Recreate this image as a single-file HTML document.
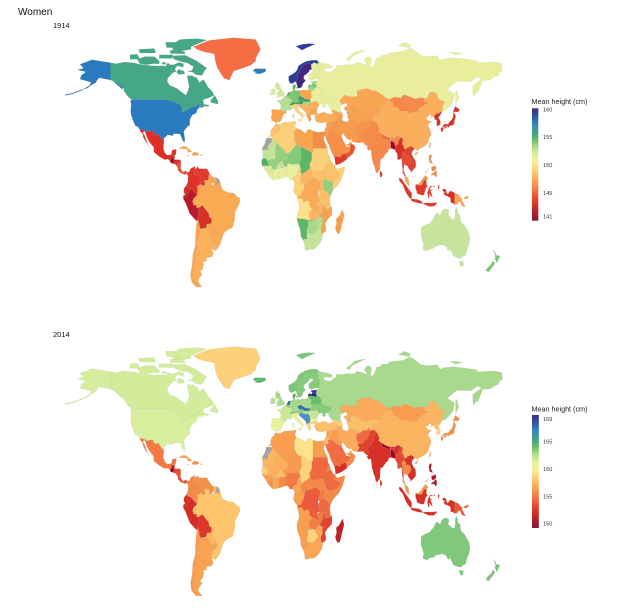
<!DOCTYPE html>
<html><head><meta charset="utf-8">
<style>
html,body{margin:0;padding:0;background:#fff;}
#wrap{position:relative;width:634px;height:608px;overflow:hidden;background:#fff;}
text{font-family:"Liberation Sans",Arial,sans-serif;}
</style></head><body>
<div id="wrap">
<svg id="s" width="634" height="608" viewBox="0 0 634 608" xmlns="http://www.w3.org/2000/svg">
<defs>
<linearGradient id="cb" x1="0" y1="0" x2="0" y2="1">
<stop offset="0" stop-color="#3b2d85"/>
<stop offset="0.07" stop-color="#2f55a5"/>
<stop offset="0.14" stop-color="#3288bd"/>
<stop offset="0.22" stop-color="#45a583"/>
<stop offset="0.28" stop-color="#66bd63"/>
<stop offset="0.35" stop-color="#b4df8e"/>
<stop offset="0.43" stop-color="#e6f39c"/>
<stop offset="0.50" stop-color="#fee690"/>
<stop offset="0.57" stop-color="#fdc86e"/>
<stop offset="0.64" stop-color="#fca55a"/>
<stop offset="0.72" stop-color="#f57b45"/>
<stop offset="0.80" stop-color="#e5492f"/>
<stop offset="0.88" stop-color="#d02a29"/>
<stop offset="0.95" stop-color="#a51c2c"/>
<stop offset="1" stop-color="#7f1a36"/>
</linearGradient>
</defs>
<text x="18" y="15" font-size="10" fill="#111">Women</text>
<text x="53" y="28" font-size="7.5" fill="#111">1914</text>
<text x="53" y="337" font-size="7.5" fill="#111">2014</text>
<g id="m1"></g>
<g id="m2" transform="translate(0,309)"></g>
<!-- legend 1 -->
<text x="531.5" y="104" font-size="7.2" fill="#222">Mean height (cm)</text>
<rect x="532" y="108.3" width="6.3" height="112.4" fill="url(#cb)"/>
<g font-size="5.6" fill="#333">
<text x="543" y="111.3">160</text>
<text x="543" y="139">155</text>
<text x="543" y="167">150</text>
<text x="543" y="195">145</text>
<text x="543" y="218.7">141</text>
</g>
<!-- legend 2 -->
<text x="531.5" y="411.5" font-size="7.2" fill="#222">Mean height (cm)</text>
<rect x="532" y="415" width="6.8" height="113" fill="url(#cb)"/>
<g font-size="5.6" fill="#333">
<text x="543" y="421">169</text>
<text x="543" y="443.7">165</text>
<text x="543" y="471">160</text>
<text x="543" y="498.7">155</text>
<text x="543" y="525.3">150</text>
</g>
</svg>
</div>
<script>
(function(){
var NS="http://www.w3.org/2000/svg";
function P(p){return (282.5+1.22*p[0]).toFixed(1)+","+(188-1.8*p[1]).toFixed(1);}
function path(c){return "M"+c.map(P).join("L")+"Z";}
var GR="#a3a3a3";
var D=[
// ---------- AMERICAS ----------
[[[-141,69.6],[-156,71.3],[-166,68.8],[-163,66.5],[-168,65.6],[-161,64.5],[-165,62.5],[-166,60.5],[-157,58.7],[-158,57],[-163,55],[-164,54.5],[-160,55.5],[-156,57.5],[-153,58.5],[-152,60],[-150,61.2],[-147,60.8],[-141,60],[-137,59],[-130,55.5],[-131.5,55],[-135,57],[-139,59.5],[-141,60]],"#2a7abf","#d5ed9d"],
[[[-164,54.8],[-172,52.8],[-178,51.9],[-178,51.4],[-172,52.3],[-164,54.3]],"#2a7abf","#d5ed9d"],
[[[-141,69.6],[-141,60],[-137,59],[-130,55.5],[-130,54],[-127,51],[-123.5,49],[-95,49],[-89,48],[-84.5,46.5],[-82.5,45],[-82.5,42],[-79,43],[-76,44],[-74.7,45],[-71,45],[-69,47.4],[-67.8,45],[-66,44.5],[-64,45.5],[-61,45.2],[-60,46],[-64.5,46.5],[-65,49],[-60,50.2],[-56,51.5],[-58,54],[-61,56],[-64,59.5],[-65,60.3],[-68,58.5],[-70,61],[-74,62.3],[-78,62.5],[-77.5,60],[-76.5,56],[-79,51.5],[-82,52.9],[-87,55.5],[-92.5,57],[-94.5,59],[-94,61],[-90,64],[-87.5,64.5],[-88,66.5],[-86,68],[-81.5,67],[-81,69],[-85,69.8],[-89,68.5],[-92,68.5],[-94,69.5],[-96,67.5],[-98,68],[-102,67.8],[-108,68],[-115,68.5],[-122,69.5],[-130,70],[-136,69]],"#46a688","#d3ec9c"],
[[[-62,66.8],[-64,65],[-66,62.5],[-71,63],[-74,64.5],[-78,64.5],[-74,65.5],[-73,67.5],[-78,69.5],[-82,70],[-89,71.5],[-90,73.5],[-80,73.7],[-76,72.5],[-70,70.5],[-67,69],[-64,67.5]],"#46a688","#d3ec9c"],
[[[-101,69],[-106,69],[-112,68.5],[-117,69],[-119,71.5],[-113,73],[-105,73],[-101,70.5]],"#46a688","#d3ec9c"],
[[[-117,71.5],[-125,71.5],[-125,74],[-119,74.3]],"#46a688","#d3ec9c"],
[[[-75,77],[-82,76.3],[-90,76.5],[-90,80],[-84,82.5],[-70,83],[-62,82.2],[-70,80],[-75,78.5]],"#46a688","#d3ec9c"],
[[[-80,74.5],[-92,74.7],[-92,76.5],[-84,76.5],[-80,75.5]],"#46a688","#d3ec9c"],
[[[-104,75],[-117,75],[-118,77],[-105,77.5]],"#46a688","#d3ec9c"],
[[[-87,78],[-95,78],[-96,81],[-88,81]],"#46a688","#d3ec9c"],
[[[-80,63.5],[-85,63],[-87,64.5],[-85,66],[-81,65]],"#46a688","#d3ec9c"],
[[[-90,72],[-101,72],[-101,74],[-90,74]],"#46a688","#d3ec9c"],
[[[-96,68.5],[-99,69],[-98,70],[-95.5,69.5]],"#46a688","#d3ec9c"],
[[[-59,47.6],[-53,46.6],[-52.8,48],[-55.5,51.5],[-59,48.5]],"#46a688","#d3ec9c"],
[[[-123.5,49],[-95,49],[-89,48],[-84.5,46.5],[-82.5,45],[-82.5,42],[-79,43],[-76,44],[-74.7,45],[-71,45],[-69,47.4],[-67.8,45],[-70,43.5],[-70.5,41.8],[-74,40.5],[-76,38],[-76,35],[-78,34],[-81,31.5],[-80,27],[-80.4,25.2],[-82,26.5],[-82.7,28],[-84,30],[-89,30.2],[-90,29],[-94,29.6],[-97.4,27.5],[-97.2,25.9],[-99.5,27.5],[-101.5,29.8],[-104.5,29.5],[-106.5,31.8],[-111,31.3],[-114.8,32.5],[-117.1,32.5],[-118.5,34],[-120.6,34.5],[-122.5,37.5],[-124,40.5],[-124.5,43],[-124,46.5],[-124.7,48.4]],"#2a7abf","#d8ee9f"],
[[[-73,78.5],[-60,82],[-40,83.5],[-22,82.5],[-20,80],[-18,77],[-22,72],[-22,70.5],[-26,68.3],[-34,66.3],[-40,65],[-43.5,60],[-48,61],[-51,64],[-53.5,67],[-55,70.5],[-56,74.5],[-66,76],[-70,77]],"#f46d43","#fdd07a"],
[[[-24,65.5],[-22,66.4],[-18,66.2],[-14,66.3],[-13.5,65],[-15,64.3],[-18.5,63.4],[-22.7,63.8],[-21.8,64.5],[-24,64.9]],"#2c7fb8","#5cb86a"],
[[[-117.1,32.5],[-114.8,32.5],[-111,31.3],[-106.5,31.8],[-104.5,29.5],[-101.5,29.8],[-99.5,27.5],[-97.2,25.9],[-97.7,22],[-96.5,19.5],[-94.5,18.2],[-91,18.6],[-90.5,21],[-87,21.5],[-87.5,18.5],[-88.3,18.5],[-89.2,17.8],[-91.4,17.3],[-90.5,16.5],[-92.2,15],[-94,16.1],[-96.5,15.7],[-101,17.5],[-105.5,20],[-105.5,22.5],[-109,25.5],[-111,27.9],[-112.8,31.5],[-114.5,31],[-113,29],[-112,27],[-110,24],[-109.5,23],[-110.5,24.5],[-112.2,26],[-114,28],[-114.5,30],[-116.5,31.5]],"#dd2f28","#f47a44"],
[[[-92.2,15],[-90.5,16.5],[-91.4,17.3],[-89.2,17.8],[-89.2,15.9],[-88.2,15.7],[-89.2,14.5],[-90.1,13.7],[-91.5,13.9]],"#a50026","#a50026"],
[[[-89.2,17.8],[-88.3,18.5],[-88.2,16],[-89.2,15.9]],"#f46d43","#e85a38"],
[[[-89.2,14.5],[-88.2,15.7],[-84.5,15.8],[-83.2,15],[-85,14],[-87,13],[-89.5,13.5],[-90.1,13.7]],"#d73027","#e34a33"],
[[[-83.2,15],[-83.6,11],[-82.5,9.5],[-81.5,8.8],[-79.5,9.6],[-77.5,8.6],[-77.9,7.2],[-78.4,8],[-80,7.3],[-81.2,7.8],[-83.5,8.4],[-85.7,9.9],[-85.7,11.2],[-87.5,12.9],[-87,13],[-85,14]],"#e6502f","#e45533"],
[[[-85,21.9],[-82,23.1],[-79,23],[-74.2,20.2],[-77.7,19.8],[-78,21.5],[-81,21.8],[-84,21.8]],"#f9a552","#f99d4e"],
[[[-74.5,18.4],[-72.8,19.9],[-69.5,19.7],[-68.4,18.5],[-71,18],[-74.4,18.2]],"#f8a04e","#f68a46"],
[[[-78.3,18.4],[-76.2,18],[-76.8,17.8],[-78.3,18.2]],"#f8a04e","#f68a46"],
[[[-67.3,18.5],[-65.6,18.4],[-65.6,18],[-67.2,18]],"#f8a04e","#f99d4e"],
[[[-77.5,8.6],[-76,9.3],[-75.5,10.6],[-74,11.2],[-72.3,11.9],[-71.3,11.8],[-72.2,11],[-72.5,9],[-72,7],[-70,6.9],[-67.5,6.2],[-67.8,4.5],[-67.3,2],[-69.9,1.1],[-69.5,-1],[-70,-4],[-72.5,-2.4],[-75.2,-0.1],[-77.4,0.4],[-78.8,1.4],[-77.5,3.5],[-77.3,6.5],[-77.9,7.2]],"#e0302a","#f58a47"],
[[[-72.3,11.9],[-71.3,11.8],[-72.2,11],[-72.5,9],[-72,7],[-70,6.9],[-67.5,6.2],[-67.8,4.5],[-67.3,2],[-64,1.1],[-63.4,2.3],[-64.5,4],[-60.9,4.5],[-60.7,5.2],[-60,8.5],[-62,10.7],[-66,10.6],[-68.5,10.8],[-70,12.1],[-71,10.5],[-71.6,11.1]],"#e23a2b","#f68f49"],
[[[-60,8.5],[-60.7,5.2],[-60.9,4.5],[-59.5,3],[-60,1.5],[-58,1.5],[-57,3.5],[-57,6],[-58.5,7]],"#f9a552","#f68f49"],
[[[-57,6],[-57,3.5],[-56,2],[-54,2],[-54,5.7]],"#f9a552","#fbb05c"],
[[[-54,5.7],[-54,2],[-52,2.3],[-51.6,4.2],[-52.5,5.3]],GR,GR],
[[[-80,-3.4],[-81,-2],[-80.5,0],[-78.8,1.4],[-77.4,0.4],[-75.2,-0.1],[-75.5,-1.5],[-78.2,-3.5],[-79,-5],[-80.3,-4]],"#d73027","#d73027"],
[[[-81.3,-4.3],[-80.3,-4],[-79,-5],[-78.2,-3.5],[-75.5,-1.5],[-75.2,-0.1],[-72.5,-2.4],[-70,-4],[-73,-6],[-73.7,-7.5],[-72.6,-9.5],[-70.5,-9.5],[-70.5,-11],[-69,-11],[-68.8,-12.9],[-69.6,-17.3],[-70.4,-18.4],[-76,-14.2],[-79.5,-8.1],[-81.3,-6]],"#b81c2b","#d42d27"],
[[[-69,-11],[-68.8,-12.9],[-69.6,-17.3],[-68.5,-19],[-68,-21.4],[-67,-22.8],[-64.5,-22.3],[-62.6,-22.2],[-62,-20],[-58.2,-19.8],[-58,-17],[-60.2,-16],[-60.5,-13.8],[-62.8,-12.2],[-65.3,-9.8],[-66.6,-9.9],[-68,-10.7]],"#d73027","#e0362a"],
[[[-60,1.5],[-59.5,3],[-60.9,4.5],[-64.5,4],[-63.4,2.3],[-64,1.1],[-67.3,2],[-69.9,1.1],[-69.5,-1],[-70,-4],[-73,-6],[-73.7,-7.5],[-72.6,-9.5],[-70.5,-9.5],[-70.5,-11],[-69,-11],[-68,-10.7],[-66.6,-9.9],[-65.3,-9.8],[-62.8,-12.2],[-60.5,-13.8],[-60.2,-16],[-58,-17],[-58.2,-19.8],[-57.8,-22.1],[-55.7,-22.6],[-54.6,-25.6],[-53.6,-26.1],[-53.8,-27.5],[-57.6,-30.2],[-53.4,-33.7],[-51,-31],[-48.6,-26],[-48,-25],[-44.5,-23],[-41,-22],[-39.2,-17.5],[-39,-13.5],[-37,-11],[-35,-8],[-35.2,-5.5],[-37.5,-4.7],[-40,-2.8],[-44.5,-2.5],[-48.5,-1.2],[-50,0],[-51,3.5],[-51.6,4.2],[-52,2.3],[-54,2],[-56,2],[-58,1.5]],"#f9ab54","#fdc46c"],
[[[-62.6,-22.2],[-62,-20],[-58.2,-19.8],[-57.8,-22.1],[-55.7,-22.6],[-54.6,-25.6],[-58.6,-27.3],[-60,-24]],"#f9a552","#fbb460"],
[[[-57.6,-30.2],[-53.4,-33.7],[-54.9,-34.9],[-58.4,-34],[-58.2,-32.5]],"#fbb460","#fdc46c"],
[[[-67,-22.8],[-64.5,-22.3],[-62.6,-22.2],[-60,-24],[-58.6,-27.3],[-54.6,-25.6],[-53.6,-26.1],[-53.8,-27.5],[-57.6,-30.2],[-58.2,-32.5],[-58.4,-34],[-57.3,-35.5],[-56.7,-36.4],[-57.7,-38.2],[-62.3,-38.8],[-62.3,-40.5],[-65,-41],[-64.5,-42.5],[-65.5,-45],[-67.5,-46.5],[-65.8,-47.8],[-68.5,-50.5],[-69,-52],[-68.3,-53],[-65.5,-55],[-68.6,-54.9],[-68.6,-52.6],[-71.9,-52],[-72.3,-50.5],[-73.5,-49],[-71.8,-44.5],[-71.5,-39.5],[-70.8,-36],[-70,-33],[-70.3,-30],[-69.1,-27.5],[-68.3,-25]],"#fbb15c","#f9a352"],
[[[-70.4,-18.4],[-69.6,-17.3],[-68.5,-19],[-68,-21.4],[-67,-22.8],[-68.3,-25],[-69.1,-27.5],[-70.3,-30],[-70,-33],[-70.8,-36],[-71.5,-39.5],[-71.8,-44.5],[-73.5,-49],[-72.3,-50.5],[-71.9,-52],[-68.6,-52.6],[-68.6,-54.9],[-71,-55],[-74.5,-52],[-75.5,-48],[-74,-43],[-73.5,-37],[-71.5,-32],[-71.4,-28],[-70.3,-18.5]],"#f9a552","#f99b4e"],
// ---------- EUROPE ----------
[[[-5.7,50.1],[1.4,51.2],[1.7,52.7],[0.2,53.5],[-0.2,54.2],[-1.6,55.6],[-2.1,57.6],[-4,57.6],[-3.2,58.6],[-5,58.6],[-6,56.8],[-5.5,55.4],[-4.9,54.8],[-3,54.6],[-3.1,53.3],[-4.6,53.3],[-4.1,52.3],[-5.2,51.7],[-3.1,51.4]],"#d4ec98","#a9d98c"],
[[[-6,52],[-10,51.6],[-9.5,53.7],[-10,54.2],[-8,55.2],[-5.8,54.8],[-6,53.5]],"#d9ef9b","#b9e094"],
[[[-9.3,43],[-8,43.7],[-1.8,43.4],[0.7,42.8],[3.2,42.4],[3.2,41.9],[0.8,41],[0,39.9],[-0.3,38.5],[-2.1,36.7],[-4.4,36.7],[-5.4,36],[-6.4,36.8],[-7.4,37.2],[-8.9,37],[-8.8,38.3],[-9.5,38.8],[-8.8,40.8],[-8.8,42.5]],"#f9a550","#e6f29e"],
[[[-1.8,43.4],[-1.2,46],[-2.7,47.5],[-4.6,48.6],[-1.5,48.7],[0,49.6],[1.6,50.9],[2.5,51.1],[4.2,49.9],[5.8,49.5],[8.2,49],[7.6,47.6],[6,46.3],[7,45.9],[6.7,44.2],[7.5,43.8],[6.2,43.1],[4.6,43.4],[3.1,43.1],[3.2,42.4],[0.7,42.8]],"#b5de8f","#cce89a"],
[[[3.4,51.4],[4.3,52.5],[4.8,53.2],[7,53.5],[6,51.9],[5.9,51],[4,51.3]],"#5db667","#2166ac"],
[[[2.5,51.1],[3,51.3],[3.4,51.4],[4,51.3],[5.9,51],[6.1,50.8],[6.4,49.5],[5.8,49.5],[4.2,49.9]],"#8fcf7c","#8fcf7c"],
[[[6,51.9],[7,53.5],[8.7,53.9],[8.7,54.9],[9.9,54.8],[11,54],[13.5,54.3],[14.2,53.9],[14.6,52.6],[15,51.1],[12.1,50.3],[13.8,48.8],[13,47.5],[10.5,47.3],[7.6,47.6],[8.2,49],[6.4,49.5],[6.1,50.8],[5.9,51]],"#7cc672","#a6d98a"],
[[[8.1,56.8],[8.7,54.9],[9.9,54.8],[10.9,56.4],[10.3,57.6],[8.7,57.1]],"#5db667","#55b467"],
[[[11.2,55.2],[12.6,55.6],[12.4,56.1],[11,55.8]],"#5db667","#55b467"],
[[[6,46.3],[7.6,47.6],[10.5,47.3],[13,47.5],[13.8,48.8],[16.9,48.6],[17,48],[16.5,46.5],[13.7,46.5],[10.5,46.6],[7,45.9]],"#3aa460","#8fcf7c"],
[[[12.1,50.3],[15,51.1],[18.8,49.5],[22.6,49.1],[22.9,48],[18.8,47.8],[17,48],[16.9,48.6],[13.8,48.8]],"#3aa460","#2b6fb2"],
[[[16.5,46.5],[17,48],[18.8,47.8],[22.9,48],[21,46.2],[18.8,45.9]],"#a6d88a","#b8e094"],
[[[14.2,53.9],[16.5,54.5],[18.6,54.4],[19.9,54.4],[23.5,54.2],[23.8,52.7],[23.2,52.3],[24,50.4],[22.6,49.1],[18.8,49.5],[15,51.1],[14.6,52.6]],"#f9a550","#a6d98a"],
[[[19.9,54.4],[19.9,54.9],[21.2,55.2],[22.8,54.4],[23.5,54.2]],"#e8ee9c","#a9d98d"],
[[[6.7,44.2],[7,45.9],[10.5,46.6],[13.7,46.5],[13.7,45.6],[12.3,45.3],[12.6,44],[16,41.4],[18.5,40.1],[16.9,40.4],[16.6,38.8],[15.7,38],[15.8,39.5],[14,41],[12.3,41.7],[10.5,42.9],[8.9,44.4],[7.5,43.8]],"#fdd07a","#e9f29e"],
[[[12.4,38],[15.6,38.2],[15.1,36.7]],"#fdd07a","#e9f29e"],
[[[8.4,41],[9.8,41],[9.6,39],[8.4,39]],"#fdd07a","#e9f29e"],
[[[13.7,46.5],[16.5,46.5],[18.8,45.9],[21,46.2],[22.7,44.6],[22.4,44],[23,43.2],[22.5,42.3],[22.5,41.2],[20.6,40.9],[19.5,40.5],[19.3,41.9],[15.5,44.3],[14,45],[13.7,45.6]],"#fcb45e","#4a8fc0"],
[[[19.5,40.5],[20.6,40.9],[22.5,41.2],[26.3,41.7],[26,40.8],[24,40.8],[22.6,40.3],[23.5,38],[22.8,37.3],[21.7,36.8],[21.1,38.3]],"#f99f4e","#fdd07a"],
[[[22.4,44],[28.6,43.7],[28,43],[28.5,41.9],[26.3,41.7],[22.5,41.2],[22.5,42.3],[23,43.2]],"#f9a550","#e6f29e"],
[[[21,46.2],[22.9,48],[24.9,47.8],[26.6,48.2],[28.2,48.2],[29.2,47.5],[30,46.4],[29.6,45.3],[28.7,44.3],[28.6,43.7],[22.4,44],[22.7,44.6]],"#fbb15c","#c8e59b"],
[[[22.6,49.1],[24,50.4],[23.6,51.5],[26,51.9],[30.5,51.3],[31.8,52.1],[34.1,51.6],[35.4,50.6],[38,50],[40,49.6],[39.7,47.9],[38.2,47.1],[35,46.3],[35.5,45.3],[33.5,44.5],[32.5,45.3],[33.5,46],[31.7,46.7],[30.7,46.5],[30,46.4],[29.2,47.5],[28.2,48.2],[26.6,48.2],[24.9,47.8],[22.9,48]],"#e8ee9c","#86cb7a"],
[[[23.5,54.2],[23.8,52.7],[23.2,52.3],[23.6,51.5],[26,51.9],[30.5,51.3],[31.8,52.1],[31.5,53.2],[32.7,53.4],[31,54.7],[30.8,55.6],[28.2,56.2],[26.5,55.7],[25.7,54.3]],"#e8ee9c","#66bd63"],
[[[21,56.1],[21.2,55.2],[22.8,54.4],[23.5,54.2],[25.7,54.3],[26.5,55.7],[24,56.3]],"#9fd486","#66bd63"],
[[[21,56.1],[24,56.3],[26.5,55.7],[28.2,56.2],[27.7,57.3],[25.5,57.9],[24.4,57.9],[23.5,57],[22,57.6],[21,56.8]],"#7cc672","#282a82"],
[[[23.5,58.6],[24.4,57.9],[25.5,57.9],[27.7,57.3],[27.8,58.4],[28,59.5],[23.4,59.2]],"#a6d88a","#313695"],
[[[5,62],[5.2,59.5],[6.5,58.1],[8,58],[10.5,59.1],[11.1,59],[12.3,60.5],[12.1,61.5],[12.5,63.5],[14.5,64.4],[13.7,65],[15.5,66.3],[16.5,67.5],[18,68.5],[20,69],[21,69.3],[23.5,68.6],[26,69.7],[28.2,69],[28.4,68.5],[29.8,67.6],[30,69.8],[28,71],[24,71],[19,70.3],[15,68.8],[13,67.8],[12,65.5],[10,64],[7,62.8]],"#2d3d98","#7cc67a"],
[[[11,78.8],[16,79.8],[22,80.2],[27,80],[20,78],[16,76.6],[14,77.5]],"#2d3d98","#7cc67a"],
[[[11.1,59],[12.3,56.3],[13,55.4],[14.3,55.5],[16,56.2],[16.6,57.9],[19,59.8],[17.3,60.7],[17.5,62.3],[20.5,63.8],[21.5,64.5],[22.5,65.8],[24,65.8],[23.7,66.8],[23.5,68.6],[21,69.3],[20,69],[18,68.5],[16.5,67.5],[15.5,66.3],[13.7,65],[14.5,64.4],[12.5,63.5],[12.1,61.5],[12.3,60.5]],"#44267c","#86cb7a"],
[[[21.5,60.8],[22.9,59.8],[25.8,60.3],[28,60.6],[30,60.5],[29.6,61.2],[31.5,62.9],[29.9,63.6],[30.5,65],[29,66.9],[29.8,67.6],[28.4,68.5],[28.2,69],[26,69.7],[23.5,68.6],[23.7,66.8],[24,65.8],[25.3,65],[21.4,62.7]],"#e3ef9a","#86cb7a"],
// ---------- RUSSIA ----------
[[[30,69.8],[33,69.3],[36,69],[41,67.8],[40,66.2],[36,66.7],[34.8,66.2],[33,66.5],[34.5,65],[36.8,64.5],[40,64.5],[42,66.3],[44,66.2],[44,68.3],[46,68],[53,68.5],[59,68.5],[60.5,69.8],[65,69.3],[68.5,68],[69,69],[67,70.5],[69,72.8],[72,72.8],[73,71],[72,67],[75,68],[77,72],[80,72.5],[81,73.6],[87,74],[87,75],[99,76],[104,77.7],[107,77],[113.5,73.5],[119,73],[127,73.5],[129,71],[132,71.8],[140,72.4],[150,71.6],[159,70.8],[160,69.5],[168,69.9],[170,70],[176,69.8],[180,69],[180,65],[178,64.7],[177,62.5],[174,61.8],[170,60],[164,59.8],[163,57.8],[162,56],[160,53],[158.5,52.9],[156.5,51],[156,53.5],[156,57],[158,58],[163,60.5],[160,61.7],[155,59.2],[152,59],[143,59.3],[138,56.5],[135,54.7],[137,54],[141,52.2],[140,48],[137,45.3],[133,42.8],[131,42.6],[130.6,42.4],[131,45],[133,48],[130,48.8],[127.5,49.8],[125.9,52.8],[120.8,53.3],[120,51.9],[117.8,49.5],[116.7,49.8],[114,50.2],[108,49.5],[106,50.3],[100,51.7],[97.8,51],[97.8,50],[92,50.5],[90,50],[87.8,49.2],[85,50],[83,51],[79,53],[76,54],[73.5,54],[71,55],[68.5,55.2],[65,54.7],[61,53.9],[61.5,51],[59,50.8],[55,50.6],[50.8,51.6],[48.5,49.9],[47.3,49],[46.5,48.4],[47.7,47.7],[48.9,46.3],[47.5,45.6],[47.5,43],[48.6,41.8],[46.5,41.9],[43.2,42.8],[40,43.4],[38,44.7],[37.5,46.6],[39.2,47],[39.7,47.9],[40,49.6],[38,50],[35.4,50.6],[34.1,51.6],[31.8,52.1],[31.5,53.2],[32.7,53.4],[31,54.7],[30.8,55.6],[28.2,56.2],[27.7,57.3],[27.8,58.4],[28,59.5],[30,60.5],[29.6,61.2],[31.5,62.9],[29.9,63.6],[30.5,65],[29,66.9],[29.8,67.6],[28.4,68.5],[28.2,69]],"#e8ee9c","#a9d98d"],
[[[52,71.5],[56,73.5],[59,75.5],[68,76.8],[66,76],[57,73],[55,70.7]],"#e8ee9c","#a9d98d"],
[[[95,79],[104,78],[105,79.5],[100,81]],"#e8ee9c","#a9d98d"],
[[[137,75.5],[148,75],[142,73.8]],"#e8ee9c","#a9d98d"],
[[[142,46],[143.5,49.2],[144.7,49],[143.3,53.5],[142.7,54.4],[141.8,53],[142,49.5]],"#e8ee9c","#a9d98d"],
// ---------- MIDDLE EAST / ASIA ----------
[[[26.1,40],[27,37.5],[28.5,36.6],[30.5,36.3],[32.5,36.1],[36,36.8],[36.2,36],[38,36.8],[42.3,37.2],[44.8,37.2],[44.3,39.5],[44.8,39.7],[43.6,41.1],[41.5,41.5],[38,40.9],[35,42],[33,42],[30,41.2],[28.9,41.3],[28,41],[26.7,40.3]],"#fbad58","#fdbe69"],
[[[26.3,41.7],[28,42],[29,41.2],[26,40.6]],"#fbad58","#fdbe69"],
[[[41.5,41.5],[43.6,41.1],[44.8,39.7],[46.5,38.9],[48,39.6],[48.9,38.4],[49.5,40.3],[48.6,41.8],[46.5,41.9],[43.2,42.8],[40,43.4]],"#f9a550","#fdd07a"],
[[[36,36.8],[35.9,35.2],[36,34.6],[35.8,33.3],[36.8,32.3],[38.8,33.4],[41,34.4],[41.3,36.4],[42.3,37.2],[38,36.8],[36.2,36]],"#f99f4e","#fba555"],
[[[38.8,33.4],[39,32],[42,31],[44.7,29.2],[46.5,29.1],[47.7,30],[48.5,29.9],[48,31],[47.7,32],[46,33.2],[45.4,34],[45.9,35.8],[44.8,37.2],[42.3,37.2],[41.3,36.4],[41,34.4]],"#f79648","#f99d4e"],
[[[46.5,29.1],[47.7,28.5],[48.5,28],[48.5,29.9],[47.7,30]],"#f79648","#f99d4e"],
[[[35.8,33.3],[35,33],[34.2,31.3],[34.9,29.5],[37,29.2],[38,30.4],[37,31.5],[39,32],[38.8,33.4],[36.8,32.3]],"#f99f4e","#fdbe69"],
[[[34.9,29.5],[36.5,26],[38,24],[39.2,21.5],[41,19],[42.8,16.4],[43.3,17.5],[46,17.3],[47,16.9],[48.2,18.2],[49.1,18.6],[52,19],[55,20],[55.5,22.5],[52,23],[51.6,24.2],[51.3,24.6],[50.8,24.8],[50.1,25.9],[49.5,26.9],[48.5,28],[47.7,28.5],[46.5,29.1],[44.7,29.2],[42,31],[39,32],[37,31.5],[38,30.4],[37,29.2]],"#f68f47","#f26d43"],
[[[42.8,16.4],[43.5,12.7],[45,12.9],[48.7,14],[52.2,15.6],[53.1,16.6],[52,19],[49.1,18.6],[48.2,18.2],[47,16.9],[46,17.3],[43.3,17.5]],"#e0382b","#d73027"],
[[[52,19],[53.1,16.6],[55.2,17.6],[56.8,18.6],[57.8,19.1],[58.5,20.4],[59.8,22.5],[58.8,23.6],[56.4,24.9],[56,24],[55.5,22.5],[55,20]],"#e8502f","#f68a46"],
[[[51.6,24.2],[55.5,22.5],[56,24],[56.4,24.9],[56,26],[54,24.2]],"#f79648","#f99d4e"],
[[[44.8,39.7],[46.5,38.9],[48,39.6],[48.9,38.4],[49,37.6],[51,36.8],[54,36.8],[54,37.4],[56,38],[57.3,38],[59.3,37.5],[61,36.5],[61.2,35.6],[60.5,33.7],[60.9,31.5],[61.7,31.4],[62.7,29.5],[61.4,29.3],[63.3,27.2],[61.9,26.2],[61.5,25.1],[57.4,25.7],[56.5,27.1],[54.7,26.5],[52.5,27.6],[50.9,29.1],[50.1,30.2],[48.5,29.9],[47.7,30],[48,31],[47.7,32],[46,33.2],[45.4,34],[45.9,35.8],[44.8,37.2],[44.3,39.5]],"#f89a4c","#fba95a"],
[[[61.2,35.6],[62.2,35.3],[64.5,36.3],[66.5,37.4],[67.8,37.1],[69.3,37.1],[70.8,38.5],[71.5,37.9],[71.2,36.9],[74.9,37.4],[71.5,36.5],[71,34.4],[69.7,33.1],[69.3,31.9],[66.9,31.3],[66.3,29.9],[62.7,29.5],[60.9,31.5],[60.5,33.7]],"#f7944a","#f06a40"],
[[[61.5,25.1],[61.9,26.2],[63.3,27.2],[61.4,29.3],[62.7,29.5],[66.3,29.9],[66.9,31.3],[69.3,31.9],[69.7,33.1],[71,34.4],[71.5,36.5],[74.9,37.4],[77.8,35.5],[76,34.6],[74.3,33],[75,32.5],[74.6,31],[73.4,29.9],[71.8,28],[70.5,28],[69.5,26.9],[70.9,24.3],[68.8,24.3],[67.4,23.9],[66.5,25.4]],"#f68d47","#e0432c"],
[[[68.8,24.3],[70.9,24.3],[69.5,26.9],[70.5,28],[71.8,28],[73.4,29.9],[74.6,31],[75,32.5],[74.3,33],[76,34.6],[77.8,35.5],[79.5,32.5],[78.8,31.2],[81,30.2],[82,27.9],[84.5,27.3],[88.1,26.5],[88.8,27.1],[89.8,26.7],[92,26.8],[92,27.8],[95,29],[97,27.8],[95.2,26],[94.6,24.2],[93.3,23.9],[92.6,22],[92.3,24.3],[91.5,24.1],[92,25],[89.8,25.9],[88.8,26.2],[88.7,24.2],[89,22],[87,21.5],[86.5,20],[84.8,19.2],[82.2,16.6],[80.3,15.9],[80,13],[79.8,10.3],[78.2,8.9],[77.5,8.1],[76.5,8.9],[75.7,11.3],[74.6,13.2],[73.5,16],[72.8,19.2],[72.6,21.3],[70.5,20.9],[69,22.4],[70.3,22.9],[68.2,23.7]],"#f6894a","#d73027"],
[[[88.8,27.1],[88.2,27.9],[90,28],[92,27.8],[92,26.8],[89.8,26.7]],"#f6894a","#d73027"],
[[[81,30.2],[82,27.9],[84.5,27.3],[88.1,26.5],[88.2,27.9],[85.8,28.3],[83,29.3]],"#f06a40","#a50026"],
[[[88.7,24.2],[88.8,26.2],[89.8,25.9],[92,25],[91.5,24.1],[92.3,24.3],[92.6,22],[92,21.2],[90.3,21.8],[89,22]],"#a50026","#a50026"],
[[[79.8,8],[80,9.8],[81.4,8.5],[81.8,7.5],[81.2,6.2],[80.1,6]],"#d73027","#e34a33"],
[[[46.5,48.4],[47.3,49],[48.5,49.9],[50.8,51.6],[55,50.6],[59,50.8],[61.5,51],[61,53.9],[65,54.7],[68.5,55.2],[71,55],[73.5,54],[76,54],[79,53],[83,51],[85,50],[87.8,49.2],[85.8,47.2],[85.5,47.5],[83,47.2],[82.5,45.5],[80,45],[80,42.1],[77,43],[74.2,43.2],[71,42.3],[69,41.4],[66,42.9],[66,42],[62,43.5],[58.5,45.6],[56,45],[56,41.3],[54,42.3],[52.5,41.8],[52.8,42.8],[51.3,43.2],[50.3,44.6],[51.3,45.2],[53,45.3],[53,46.8],[51.2,47],[49.1,46.4],[48.9,46.3],[47.7,47.7]],"#f9a652","#fba95a"],
[[[52.5,41.8],[54,42.3],[56,41.3],[56,45],[58.5,45.6],[62,43.5],[66,42],[66,42.9],[69,41.4],[71,42.3],[74.2,43.2],[77,43],[80,42.1],[76.5,40.5],[74.8,40.5],[73.5,39.5],[74.9,37.4],[71.2,36.9],[71.5,37.9],[70.8,38.5],[69.3,37.1],[67.8,37.1],[66.5,37.4],[64.5,36.3],[62.2,35.3],[61.2,35.6],[61,36.5],[59.3,37.5],[57.3,38],[56,38],[54,37.4],[53.9,38.9],[53.1,39.3],[53.8,40.6],[52.9,40.9]],"#f8a04e","#fdbe69"],
[[[87.8,49.2],[90,50],[92,50.5],[97.8,50],[97.8,51],[100,51.7],[106,50.3],[108,49.5],[114,50.2],[116.7,49.8],[115.5,48.1],[118,47.8],[119.7,46.7],[117.4,46.6],[113,44.8],[111,43.4],[111.6,42.4],[107.5,42.4],[105,41.6],[100.8,42.7],[96.4,42.7],[95.3,44.3],[93.5,44.9],[90.9,45.3],[90.6,47.2],[88,48.6]],"#f5894a","#f99c4e"],
[[[73.5,39.5],[74.9,37.4],[77.8,35.5],[79.5,32.5],[78.8,31.2],[81,30.2],[83,29.3],[85.8,28.3],[88.2,27.9],[90,28],[92,27.8],[95,29],[97,27.8],[97.6,28.3],[98.7,26.7],[97.8,24],[98.9,24.1],[99.5,22.1],[101.2,21.4],[102.2,22.4],[103.5,22.7],[105.3,23.3],[106.7,22.8],[108,21.5],[109.7,21.5],[110.5,20.3],[111.8,21.6],[113.5,22.2],[117,23.5],[119.5,25.5],[120,27.2],[121.8,29.8],[121.5,31.5],[120.5,33],[119.2,34.7],[120.6,36.1],[122.5,37],[119,37.5],[118,38.5],[117.5,39],[119.5,39.8],[121.3,40.9],[122,40.4],[121.2,39],[122,39.2],[124.3,39.9],[126,41.2],[128.2,41.4],[129.7,42.4],[130.6,42.4],[131,42.6],[131,45],[133,48],[130,48.8],[127.5,49.8],[125.9,52.8],[120.8,53.3],[120,51.9],[117.8,49.5],[116.7,49.8],[115.5,48.1],[118,47.8],[119.7,46.7],[117.4,46.6],[113,44.8],[111,43.4],[111.6,42.4],[107.5,42.4],[105,41.6],[100.8,42.7],[96.4,42.7],[95.3,44.3],[93.5,44.9],[90.9,45.3],[90.6,47.2],[88,48.6],[87.8,49.2],[85.8,47.2],[85.5,47.5],[83,47.2],[82.5,45.5],[80,45],[80,42.1],[76.5,40.5],[74.8,40.5]],"#fbae5c","#fbb360"],
[[[108.6,19.3],[110.5,20.1],[111,19.6],[109.5,18.2],[108.7,18.5]],"#fbae5c","#fbb360"],
[[[120.1,23],[121,25.2],[121.9,25],[120.8,22]],"#f9a550","#fbb360"],
[[[124.3,39.9],[126,41.2],[128.2,41.4],[129.7,42.4],[130.6,42.4],[129.7,41],[128,39.4],[127.5,39.3],[128.4,38.6],[126.7,37.8],[125.2,37.7],[125.3,38.6],[124.7,38.1]],"#d73027","#fdbe69"],
[[[126.7,37.8],[128.4,38.6],[129.4,37],[129.4,35.5],[128.3,34.9],[126.4,34.4],[126.5,36.5],[126.1,36.7]],"#d73027","#fdd07a"],
[[[130.9,34],[132.5,35.4],[135.7,35.5],[137,36.8],[138.6,37.8],[140,39.7],[140,41.2],[141.4,41.4],[142,39.5],[140.9,37.5],[140.7,35.8],[139.8,35],[138.7,34.7],[137,34.6],[135.8,33.5],[135,34.5],[133,34.2],[131.5,33.9]],"#d9342a","#f68d47"],
[[[129.7,33.2],[131,33.9],[131.9,33],[131.2,31.4],[130.2,31.3]],"#d9342a","#f68d47"],
[[[140,41.5],[139.9,42.5],[141.5,45.4],[145.5,43.4],[143.3,42],[141.3,42.5]],"#d9342a","#f68d47"],
[[[132.5,33],[132.7,34],[134.7,34.2],[134.2,33.2]],"#d9342a","#f68d47"],
[[[92.6,22],[93.3,23.9],[94.6,24.2],[95.2,26],[97,27.8],[97.6,28.3],[98.7,26.7],[97.8,24],[98.9,24.1],[99.5,22.1],[101.2,21.4],[100.1,20.4],[98.3,19.7],[97.8,18.6],[98.5,16.8],[98.2,15.1],[99.1,13.8],[98.5,10],[98.2,12],[97.6,16.5],[95.4,15.7],[94.2,16],[94.3,18.2],[93.5,19.5],[92.4,20.7]],"#d73027","#e34a33"],
[[[98.3,19.7],[100.1,20.4],[100.6,19.5],[101.2,19.5],[101,17.5],[102.1,18.1],[103,17.9],[104.7,17.4],[105.6,15.6],[105,14.2],[102.6,12.2],[100.8,12.6],[100,13.4],[99.2,10],[100.5,7.4],[101,6.9],[101.6,5.9],[100.3,6.5],[98.5,8.4],[98.5,10],[99.1,13.8],[98.2,15.1],[98.5,16.8],[97.8,18.6]],"#e34a33","#f58a47"],
[[[101.2,21.4],[102.2,22.4],[103.5,22.7],[105.3,23.3],[106.7,22.8],[108,21.5],[106.7,20.7],[105.7,19],[107.4,16.7],[108.9,15.3],[109.3,13.4],[109.2,11.7],[108.4,11],[106.4,9.5],[105.2,8.6],[104.8,9.9],[103.5,10.6],[102.6,12.2],[105,14.2],[105.6,15.6],[104.7,17.4],[103,17.9],[102.1,18.1],[101,17.5],[101.2,19.5],[100.6,19.5],[100.1,20.4]],"#e0402e","#d73027"],
[[[100.3,6.5],[101.6,5.9],[102.1,6.2],[103.4,4.9],[103.5,2.8],[104.2,1.4],[103.5,1.3],[101.3,2.9],[100.2,5.3]],"#f9a550","#f79a4c"],
[[[95.3,5.5],[97.5,5.2],[100.3,2.3],[103.8,-1],[106,-3],[105.8,-5.8],[104.6,-5.9],[102.5,-4],[101,-2.2],[98.6,1.8],[96,3.8]],"#e0382b","#d73027"],
[[[105.2,-6.8],[106,-5.9],[108,-6.3],[110.8,-6.4],[112.6,-6.9],[114.6,-7.7],[114.4,-8.7],[110.5,-8.2],[106.5,-7.4]],"#e0382b","#d73027"],
[[[109,1.7],[109.7,2],[111,1.9],[113,3.1],[115.5,5.5],[117.2,7],[119.2,5.4],[118,4.3],[117.9,1.8],[119,0.9],[117.5,0],[116.5,-2.5],[116,-3.9],[114.5,-4],[111.8,-3.5],[110.2,-2.9],[110,-1.6],[109.1,-0.5]],"#e0382b","#d73027"],
[[[109.7,2],[111,1.9],[113,3.1],[115.5,5.5],[117.2,7],[119.2,5.4],[118,4.3],[116,4.2],[114.5,1.6],[112,1.2]],"#f79648","#f79a4c"],
[[[119.4,-5.4],[120.4,-5.5],[120.3,-2.9],[121.5,-4.2],[123,-5.4],[122.3,-3.5],[121.2,-1.6],[123.3,-1],[121,-1],[120.9,1.3],[124.4,0.4],[125.2,1.5],[124.4,1],[120.2,0.2],[119.8,-0.1],[118.8,-2.8]],"#e0382b","#d73027"],
[[[115,-8.5],[119,-8.3],[122,-8.4],[125,-8.1],[127,-8.2],[125,-9.5],[124,-10.2],[120,-10.2],[116,-9],[115.2,-8.8]],"#e0382b","#d73027"],
[[[127.5,1.5],[128.6,1.2],[128.3,-0.8],[127.6,-0.3]],"#e0382b","#d73027"],
[[[131,-1],[132.4,-0.4],[134,-0.9],[134.5,-2.8],[135.5,-3.4],[137.5,-1.5],[140,-2.4],[141,-2.6],[141,-9.1],[139,-8.1],[138,-8.4],[137.6,-5.5],[135.2,-4.5],[133,-4],[132,-2.8],[133.7,-2.3],[132.3,-2.1],[131.2,-1.5]],"#d73027","#d73027"],
[[[141,-2.6],[144.5,-3.8],[146,-5.3],[147.6,-6.1],[147,-6.7],[148,-8],[150,-10.6],[147,-10],[146,-8],[144,-7.6],[143.3,-9],[141,-9.1]],"#f9a550","#e85a38"],
[[[148.3,-5.5],[150,-5],[152,-4.2],[152.4,-5.2],[150.8,-6.1],[148.5,-6]],"#f9a550","#e85a38"],
[[[120.6,18.5],[122.2,18.5],[122,17],[121.5,15.9],[122.8,14.2],[124.1,12.6],[123,13.7],[121.5,13.8],[120.6,14.4],[119.9,16.5]],"#f48a48","#b2182b"],
[[[122,7],[124.2,7.4],[125.4,6],[126.5,6.8],[126.3,9.3],[125.5,9.8],[123.5,8.3],[122.2,8]],"#f48a48","#b2182b"],
[[[122,11.5],[125.5,12.5],[126,10.5],[124,9.5],[122.5,9.5]],"#f48a48","#b2182b"],
[[[117.3,8.5],[119.5,10.5],[119.8,11],[117.6,8.2]],"#f48a48","#b2182b"],
// ---------- OCEANIA ----------
[[[113.3,-22],[114.1,-21.8],[116.7,-20.6],[121,-19.5],[122.2,-18],[123.5,-17.3],[125.7,-14.3],[127.1,-13.8],[128.5,-15],[129.6,-14.9],[130.2,-13.3],[131.4,-12.2],[132.6,-12.1],[132.6,-11.5],[136,-12],[136.5,-13.5],[135.5,-14.9],[137.1,-15.9],[139.3,-17.4],[140.9,-17.4],[141.7,-15],[141.5,-12.5],[142.5,-10.7],[143.5,-12.5],[143.9,-14.6],[145.4,-15],[146.4,-19],[149,-20.5],[150.8,-22.6],[153.1,-25.5],[153.6,-28.2],[152.9,-31.6],[151.3,-33.8],[150,-37.4],[148,-37.8],[146.3,-39],[143.6,-38.8],[140.6,-38],[139.6,-37.4],[139,-35.7],[138.1,-35.6],[138.5,-34.4],[137.5,-35.1],[137.9,-33.5],[136,-34.8],[135,-33.7],[134.3,-32.6],[131.3,-31.5],[126.1,-32.2],[124,-33.5],[121.3,-33.8],[118,-35],[115.6,-34.4],[115,-33.5],[115.7,-31.6],[115,-29.5],[113.4,-26.1],[113.8,-23]],"#c7e49c","#7fc87c"],
[[[144.7,-40.7],[148.3,-40.9],[148,-43.2],[146,-43.6],[145.3,-42.2]],"#c7e49c","#7fc87c"],
[[[172.7,-34.4],[174.4,-35.8],[175.5,-37.5],[178.5,-37.7],[177.3,-39.3],[176,-41.3],[174.7,-41.3],[175.2,-40.5],[173.8,-39.2],[174.6,-38.8],[174.3,-36.5]],"#80c57a","#80c57a"],
[[[172.8,-40.5],[174.2,-41.7],[172.7,-43.4],[171,-44.9],[169.3,-46.6],[166.5,-46],[168.4,-44],[170.6,-42.8],[172.1,-41]],"#80c57a","#80c57a"],
// ---------- AFRICA ----------
[[[-5.9,35.8],[-2.2,35.1],[-1.8,34.5],[-1.7,33],[-3.7,30.9],[-8.7,28.7],[-13.2,27.7],[-11.5,28.1],[-9.6,29.9],[-9.8,31.2],[-8.5,33.3],[-6.8,34.1]],"#fdc068","#f99d4e"],
[[[-13.2,27.7],[-8.7,27.7],[-8.7,25.9],[-12,23.4],[-12,21.3],[-17,21.4],[-16.3,22.5],[-14.5,24.5]],GR,GR],
[[[-17,21.4],[-12,21.3],[-12,23.4],[-8.7,25.9],[-8.7,27.3],[-4.8,25],[-6,21],[-5.5,16.3],[-11.5,15.4],[-12.2,14.7],[-14,16.6],[-16.5,16.1],[-16,18.5]],"#c3e39a","#fbb460"],
[[[-1.8,34.5],[-2.2,35.1],[1,36.5],[8.6,36.9],[8.4,35.5],[7.6,33.3],[9.5,30.3],[9.8,29],[9.9,26.5],[11.5,24.3],[7.5,20.8],[5.7,19.6],[4.3,19.2],[3.2,19],[1.8,20.6],[-4.8,25],[-8.7,27.3],[-8.7,28.7],[-3.7,30.9],[-1.7,33]],"#fdcf78","#f99d4e"],
[[[8.4,35.5],[8.6,36.9],[10.4,37.3],[11.1,36.8],[10.2,34.3],[11.5,33.1],[10.3,31.7],[9.5,30.3],[7.6,33.3]],"#fdcf78","#f99d4e"],
[[[11.5,33.1],[15.2,32.3],[19,30.3],[20,32],[22.5,32.8],[25,31.6],[25,22],[25,20],[24,20],[24,19.5],[15,23],[14.1,22.5],[11.5,24.3],[9.9,26.5],[9.8,29],[9.5,30.3],[10.3,31.7]],"#f9a650","#fde28a"],
[[[25,31.6],[29,30.9],[32,31.3],[34.2,31.3],[34.9,29.5],[33.5,27.5],[35.6,23.9],[36.9,22],[25,22]],"#f68d45","#f99d4e"],
[[[25,22],[36.9,22],[37.3,19],[38.5,18],[36.5,16],[36.4,14.4],[34.5,10.5],[34,9.5],[33.2,10.1],[30,9.7],[27,9.6],[24,8.7],[22.9,11.3],[22,12.9],[23.9,15.6],[24,19.5],[24,20],[25,20]],"#fdd17c","#f16a3f"],
[[[24,8.7],[27,9.6],[30,9.7],[33.2,10.1],[34,9.5],[34,8.4],[35.3,5.5],[33.4,3.8],[30.8,3.5],[27.4,5.2],[25.1,5],[23.5,6.5]],"#fbc068","#f58a47"],
[[[15,23],[24,19.5],[23.9,15.6],[22,12.9],[22.9,11.3],[21.7,10.5],[19,9],[15.5,7.6],[14.5,10],[15.5,10],[14.1,12.5],[13.6,13.6],[15.5,16.9],[15.2,21]],"#5cb666","#fdd27a"],
[[[11.5,24.3],[14.1,22.5],[15,23],[15.2,21],[15.5,16.9],[13.6,13.6],[12.2,13.1],[10,13.3],[8.5,13],[6.5,13.5],[4,13.5],[3.6,11.7],[2.4,11.9],[1,13],[0.2,14.9],[3.6,15.6],[4.3,16.9],[4.3,19.2],[5.7,19.6],[7.5,20.8]],"#86cb79","#f89a4e"],
[[[-12.2,14.7],[-11.5,15.4],[-5.5,16.3],[-6,21],[-4.8,25],[1.8,20.6],[3.2,19],[4.3,19.2],[4.3,16.9],[3.6,15.6],[0.2,14.9],[-0.7,15],[-2,14.2],[-3,13.6],[-4.4,12.5],[-5.5,10.4],[-7.8,10.2],[-8.3,11],[-9,12.3],[-11.4,12.4]],"#93d07f","#fbb05c"],
[[[-16.5,16.1],[-14,16.6],[-12.2,14.7],[-11.4,12.4],[-16.7,12.4],[-17.2,14.7]],"#4ab064","#fdd07a"],
[[[-16.7,12.4],[-11.4,12.4],[-9,12.3],[-8.3,11],[-7.8,10.2],[-8,8.5],[-10.3,8.5],[-13.2,9],[-15,10.8]],"#d9ee9c","#f99d4e"],
[[[-13.2,9],[-10.3,8.5],[-8,8.5],[-8.5,7.5],[-7.5,4.4],[-9.5,5.5],[-11.5,6.9]],"#e8ee9c","#f68a46"],
[[[-8.5,7.5],[-8,8.5],[-7.8,10.2],[-5.5,10.4],[-2.8,11],[-2.7,9.5],[-2.9,5],[-7.5,4.4]],"#e8ee9c","#fba555"],
[[[-5.5,10.4],[-2.8,11],[0,11],[0.9,11],[2.4,11.9],[1,13],[0.2,14.9],[-0.7,15],[-2,14.2],[-3,13.6],[-4.4,12.5]],"#c3e39a","#fdc06a"],
[[[-2.8,11],[-2.7,9.5],[-2.9,5],[0,5.6],[2.7,6.3],[3.6,11.7],[2.4,11.9],[0.9,11],[0,11]],"#e8ee9c","#f68a46"],
[[[2.7,6.3],[4.5,6.3],[6,4.3],[8.5,4.5],[9.6,6.5],[11.1,6.5],[12.3,8.6],[13.6,10.9],[14.5,12],[14.1,12.5],[13.6,13.6],[12.2,13.1],[10,13.3],[8.5,13],[6.5,13.5],[4,13.5],[3.6,11.7]],"#e8ee9c","#f27b44"],
[[[8.5,4.5],[9.8,3],[9.8,2.2],[11.3,2.2],[16,2.2],[15.5,3.5],[14.5,5],[15.5,7.6],[14.5,10],[15.5,10],[14.1,12.5],[14.5,12],[13.6,10.9],[12.3,8.6],[11.1,6.5],[9.6,6.5]],"#fdd17c","#fba555"],
[[[14.5,5],[15.5,3.5],[16,2.2],[18.5,3.5],[22.4,4],[25.1,5],[27.4,5.2],[23.5,6.5],[24,8.7],[22.9,11.3],[21.7,10.5],[19,9],[15.5,7.6]],"#fbb460","#f58a47"],
[[[9.8,2.2],[9.4,0],[8.8,-1],[10,-3],[11.1,-3.9],[12.2,-5],[13.5,-4.5],[15.5,-4],[16.2,-2],[17.5,-1],[18.2,2.2],[18.5,3.5],[16,2.2],[11.3,2.2]],"#fdd07a","#f99d4e"],
[[[12.2,-6],[12.3,-5],[13.5,-4.5],[15.5,-4],[16.2,-2],[17.5,-1],[18.2,2.2],[18.5,3.5],[22.4,4],[25.1,5],[27.4,5.2],[30.8,3.5],[31,2.2],[29.6,-1.3],[29.2,-4.5],[30.5,-8.3],[28.9,-8.5],[28.4,-9.2],[28.7,-11],[29.8,-12.2],[29.6,-13.3],[27.8,-12.3],[24,-11],[22.5,-11],[21.7,-7.3],[19.3,-7],[17.5,-8.2],[16.3,-5.9]],"#f9aa55","#ec5b3c"],
[[[12.2,-6],[16.3,-5.9],[17.5,-8.2],[19.3,-7],[21.7,-7.3],[22.5,-11],[24,-11],[24,-13],[22,-13],[22,-16],[23.4,-17.6],[20.9,-18],[18.5,-17.4],[13.4,-17],[11.7,-17],[12,-14.5],[13.7,-11.3],[13.2,-8.6]],"#fee08b","#f99d4e"],
[[[11.7,-17],[13.4,-17],[18.5,-17.4],[20.9,-18],[23.4,-17.6],[25.3,-17.6],[24,-18.3],[21,-18.3],[21,-22],[20,-22],[20,-24.8],[20,-28.4],[16.5,-28.6],[15.2,-27],[14.5,-22.8],[13.3,-20.9]],"#5db668","#f99d4e"],
[[[21,-18.3],[24,-18.3],[25.3,-17.6],[26,-18],[29.4,-22.1],[27,-24],[25.6,-25.5],[23,-25.3],[20,-24.8],[20,-22],[21,-22]],"#a6d88a","#fdd27a"],
[[[16.5,-28.6],[20,-28.4],[20,-24.8],[23,-25.3],[25.6,-25.5],[27,-24],[29.4,-22.1],[31.3,-22.4],[32,-25],[32.9,-26.8],[32.4,-28.6],[30,-31.3],[27.5,-33.2],[25.6,-34],[22.5,-34],[20,-34.8],[18.4,-34.1],[18.2,-31.7],[17.2,-29.8]],"#c5e49b","#fba555"],
[[[26,-18],[27.5,-17.6],[29,-15.8],[30.4,-15.6],[32.9,-16.5],[32.8,-18.8],[32.8,-20.5],[31.3,-22.4],[29.4,-22.1]],"#b5de8f","#fba555"],
[[[22,-13],[24,-13],[24,-11],[27.8,-12.3],[29.6,-13.3],[29.8,-12.2],[28.7,-11],[28.4,-9.2],[30.7,-8.4],[33.2,-9.7],[33.5,-10.8],[33.1,-12.6],[30.4,-15.6],[29,-15.8],[27.5,-17.6],[26,-18],[25.3,-17.6],[23.4,-17.6],[22,-16]],"#fbb460","#f27b44"],
[[[33.2,-9.7],[34.5,-9.5],[35,-11.5],[34.6,-12.5],[35.3,-14.3],[35.3,-17],[33.9,-16.2],[30.4,-15.6],[33.1,-12.6],[33.5,-10.8]],"#f9a04e","#e0442f"],
[[[30.4,-15.6],[32.9,-16.5],[32.8,-18.8],[32.8,-20.5],[31.3,-22.4],[32,-25],[32.9,-26.8],[32.6,-25.5],[35.5,-24],[35.5,-22],[34.8,-19.8],[37,-17.5],[40.5,-15],[40.5,-10.5],[39.5,-10.8],[37.5,-11.6],[35,-11.5],[34.6,-12.5],[35.3,-14.3],[35.3,-17],[33.9,-16.2]],"#f9a04e","#e0442f"],
[[[29.6,-1.3],[30.8,-1],[33.9,-1],[37.7,-3.1],[39.2,-4.7],[38.8,-6.5],[39.5,-10.8],[40.5,-10.5],[37.5,-11.6],[35,-11.5],[34.5,-9.5],[33.2,-9.7],[30.7,-8.4],[30.5,-8.3],[29.2,-4.5],[30.5,-2.5]],"#fbc068","#f06a3f"],
[[[33.9,-1],[34,4.2],[35.3,5.5],[36,4.5],[38,3.6],[39.6,3.5],[41,4],[41.9,3.9],[41,2.8],[41,-1.7],[39.2,-4.7],[37.7,-3.1]],"#90cf7d","#f58a47"],
[[[29.6,-1.3],[30.8,-1],[33.9,-1],[34,4.2],[33.4,3.8],[30.8,3.5],[31,2.2]],"#fbb460","#f27b44"],
[[[34,8.4],[34,9.5],[34.5,10.5],[36.4,14.4],[37.9,14.9],[40,14.5],[41.8,11.5],[43.1,12.7],[43.5,11.5],[42.8,11],[43,9.3],[44,9],[48,8],[45,5],[43,4.3],[41.9,3.9],[41,4],[39.6,3.5],[38,3.6],[36,4.5],[35.3,5.5]],"#fbc068","#ef6a40"],
[[[36.4,14.4],[36.5,16],[38.5,18],[39.5,15.5],[41.8,13],[43.1,12.7],[41.8,11.5],[40,14.5],[37.9,14.9]],"#fdd07a","#f58a47"],
[[[41,-1.7],[41,2.8],[41.9,3.9],[43,4.3],[45,5],[48,8],[44,9],[43,9.3],[42.8,11],[43.5,11.5],[45,10.6],[48,11.2],[51.1,11.9],[51,10.5],[50.9,10.3],[49.5,6.8],[48,4.5],[46,2],[43,-0.1]],"#fdd07a","#f58a47"],
[[[49.3,-12],[50.5,-15.3],[49.8,-17],[48.6,-20.5],[47,-25],[45.2,-25.5],[43.7,-23.5],[43.3,-22],[44.4,-20],[44,-17],[46.3,-15.8],[48,-13.6]],"#f99d4a","#c01f2b"]
];
var m1=document.getElementById("m1"),m2=document.getElementById("m2");
for(var i=0;i<D.length;i++){
  var d=path(D[i][0]);
  var a=document.createElementNS(NS,"path");
  a.setAttribute("d",d);a.setAttribute("fill",D[i][1]);
  a.setAttribute("stroke","#8a8a8a");a.setAttribute("stroke-opacity","0.3");a.setAttribute("stroke-width","0.3");
  a.setAttribute("stroke-linejoin","round");
  m1.appendChild(a);
  var b=document.createElementNS(NS,"path");
  b.setAttribute("d",d);b.setAttribute("fill",D[i][2]);
  b.setAttribute("stroke","#8a8a8a");b.setAttribute("stroke-opacity","0.3");b.setAttribute("stroke-width","0.3");
  b.setAttribute("stroke-linejoin","round");
  m2.appendChild(b);
}
})();
</script>
</body></html>
